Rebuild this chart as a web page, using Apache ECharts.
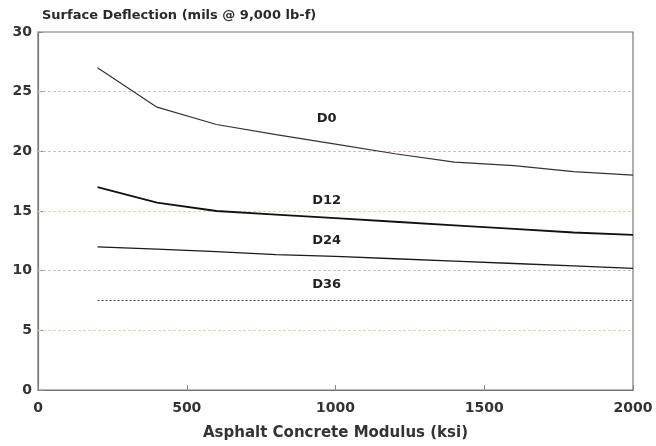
<!DOCTYPE html>
<html><head><meta charset="utf-8">
<script src="https://cdn.jsdelivr.net/npm/echarts@6/dist/echarts.min.js"></script>
<style>html,body{margin:0;padding:0;background:#fff}#c{width:656px;height:446px}</style>
</head><body><div id="c"></div>
<script>
const modulus = [200, 400, 600, 800, 1000, 1200, 1400, 1600, 1800, 2000];
const d0  = [27.0, 23.7, 22.25, 21.4, 20.6, 19.8, 19.1, 18.8, 18.3, 18.0];
const d12 = [17.0, 15.7, 15.0, 14.7, 14.4, 14.1, 13.8, 13.5, 13.2, 13.0];
const d24 = [12.0, 11.8, 11.6, 11.35, 11.2, 11.0, 10.8, 10.6, 10.4, 10.2];
const d36 = [7.5, 7.5, 7.5, 7.5, 7.5, 7.5, 7.5, 7.5, 7.5, 7.5];
const seriesNames = ['D0', 'D12', 'D24', 'D36'];
const labelPos = [[970, 22.7], [970, 15.86], [970, 12.5], [970, 8.8]];
const gridValues = [5, 10, 15, 20, 25];
const gridColors = ['#d6dca0', '#c4c4c4', '#d8dca0', '#dcb8c0', '#c8c8c8'];
const xTicks = [0, 500, 1000, 1500, 2000];
const yTicks = [0, 5, 10, 15, 20, 25, 30];

const pair = arr => modulus.map((x, i) => [x, arr[i]]);
const font = 'DejaVu Sans, sans-serif';
const styles = [
  {color: '#333', width: 1.2, type: 'solid'},
  {color: '#111', width: 1.8, type: 'solid'},
  {color: '#1a1a1a', width: 1.3, type: 'solid'},
  {color: '#444', width: 1.2, type: [2, 2]}
];
const dataSets = [d0, d12, d24, d36];

const series = dataSets.map((d, i) => ({
  type: 'line', name: seriesNames[i], data: pair(d), symbol: 'none',
  lineStyle: styles[i], z: 5,
  markPoint: {
    symbol: 'circle', symbolSize: 1, itemStyle: {color: 'rgba(0,0,0,0)'},
    label: {show: true, formatter: seriesNames[i], position: 'inside',
      color: '#222', fontSize: 13, fontWeight: 'bold', fontFamily: font},
    data: [{coord: labelPos[i]}]
  }
}));
series.push({
  type: 'line', data: [], symbol: 'none', silent: true, z: 1,
  markLine: {
    silent: true, symbol: 'none', label: {show: false},
    data: gridValues.map((v, i) => ({yAxis: v, lineStyle: {color: gridColors[i], width: 1, type: [3, 2]}}))
  }
});

const chart = echarts.init(document.getElementById('c'));
chart.setOption({
  animation: false,
  title: {text: 'Surface Deflection (mils @ 9,000 lb-f)', left: 37, top: 4,
    textStyle: {fontSize: 13, fontWeight: 'bold', color: '#2a2a2a', fontFamily: font}},
  grid: {left: 38, right: 23, top: 32, bottom: 54, show: true, borderColor: '#777', borderWidth: 1.2},
  xAxis: {
    type: 'value', min: 0, max: 2000, interval: 500,
    name: 'Asphalt Concrete Modulus (ksi)', nameLocation: 'middle', nameGap: 36,
    nameTextStyle: {fontSize: 15, fontWeight: 'bold', color: '#333', fontFamily: font},
    axisLine: {show: true, lineStyle: {color: '#777', width: 1.2}},
    axisTick: {show: true, inside: true, length: 5, lineStyle: {color: '#888'}},
    axisLabel: {color: '#333', fontSize: 14, fontWeight: 'bold', margin: 11, fontFamily: font,
      formatter: v => xTicks.includes(v) ? String(v) : ''},
    splitLine: {show: false}
  },
  yAxis: {
    type: 'value', min: 0, max: 30, interval: 5,
    axisLine: {show: true, lineStyle: {color: '#777', width: 1.2}},
    axisTick: {show: true, inside: true, length: 5, lineStyle: {color: '#888'}},
    axisLabel: {color: '#333', fontSize: 14, fontWeight: 'bold', margin: 6, fontFamily: font,
      formatter: v => yTicks.includes(v) ? String(v) : ''},
    splitLine: {show: false}
  },
  series: series
});
</script></body></html>
